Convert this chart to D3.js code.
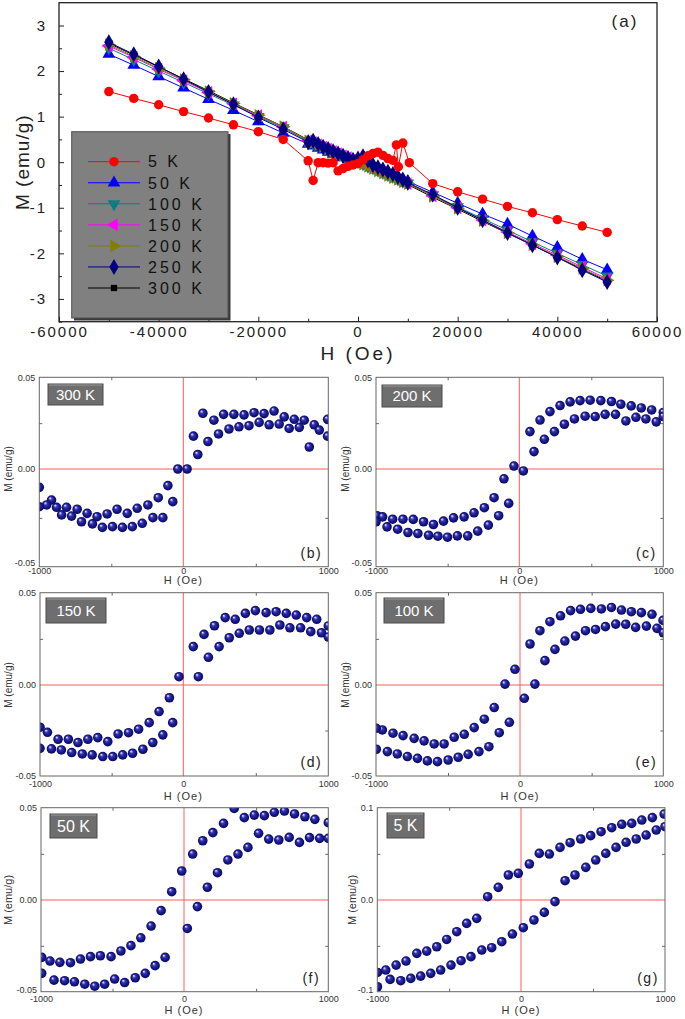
<!DOCTYPE html>
<html><head><meta charset="utf-8">
<script src="https://cdn.jsdelivr.net/npm/d3@7"></script>
<style>body{margin:0;background:#fff}svg{display:block;font-family:Arial,"Liberation Sans",sans-serif}</style>
</head><body><svg id="c" width="685" height="1019"></svg>
<script>
// ---------- panel (a) data ----------
const topXTicks = [-60000,-40000,-20000,0,20000,40000,60000];
const topYTicks = [-3,-2,-1,0,1,2,3];
const topH = [-50000,-45000,-40000,-35000,-30000,-25000,-20000,-15000,-10000,-9000,-8000,-7000,-6000,-5000,-4000,-3000,-2000,-1000,0,1000,2000,3000,4000,5000,6000,7000,8000,9000,10000,15000,20000,25000,30000,35000,40000,45000,50000];
const m50K  = [2.37,2.13,1.88,1.63,1.38,1.14,0.89,0.64,0.40,0.36,0.31,0.27,0.22,0.18,0.14,0.10,0.06,0.03,0.0,-0.04,-0.07,-0.11,-0.15,-0.20,-0.24,-0.29,-0.33,-0.38,-0.42,-0.66,-0.90,-1.14,-1.36,-1.62,-1.87,-2.13,-2.36];
const m100K = [2.50,2.25,2.00,1.75,1.50,1.25,1.00,0.75,0.46,0.42,0.37,0.33,0.28,0.23,0.19,0.14,0.09,0.05,0.01,-0.04,-0.09,-0.13,-0.18,-0.23,-0.28,-0.32,-0.37,-0.42,-0.46,-0.72,-0.98,-1.24,-1.49,-1.75,-2.00,-2.25,-2.50];
const m150K = [2.55,2.30,2.04,1.79,1.53,1.28,1.02,0.77,0.47,0.43,0.38,0.33,0.29,0.24,0.19,0.14,0.10,0.05,0.01,-0.04,-0.09,-0.14,-0.19,-0.24,-0.28,-0.33,-0.38,-0.43,-0.47,-0.74,-1.00,-1.27,-1.53,-1.79,-2.04,-2.30,-2.56];
const m200K = [2.58,2.32,2.06,1.81,1.55,1.29,1.03,0.78,0.47,0.43,0.38,0.34,0.29,0.24,0.19,0.15,0.10,0.05,0.02,-0.04,-0.09,-0.14,-0.19,-0.24,-0.29,-0.34,-0.38,-0.43,-0.47,-0.75,-1.01,-1.28,-1.55,-1.81,-2.07,-2.33,-2.59];
const m250K = [2.63,2.37,2.10,1.82,1.54,1.27,0.98,0.72,0.44,0.47,0.40,0.34,0.29,0.24,0.19,0.14,0.09,0.05,0.08,0.13,0.04,-0.06,-0.11,-0.16,-0.21,-0.26,-0.32,-0.38,-0.45,-0.71,-1.00,-1.27,-1.55,-1.82,-2.09,-2.37,-2.63];
const m300K = [2.61,2.35,2.09,1.83,1.57,1.30,1.04,0.78,0.49,0.44,0.39,0.34,0.29,0.24,0.19,0.15,0.10,0.05,0.0,-0.05,-0.10,-0.15,-0.20,-0.25,-0.30,-0.35,-0.40,-0.45,-0.49,-0.77,-1.03,-1.30,-1.56,-1.82,-2.08,-2.35,-2.61];
const h5K = [-50000,-45000,-40000,-35000,-30000,-25000,-20000,-15000,-10000,-9000,-8000,-7000,-6000,-5000,-4000,-3000,-2000,-1000,0,1000,2000,3000,4000,5000,6000,7000,7700,8100,9000,10300,15000,20000,25000,30000,35000,40000,45000,50000];
const m5K = [1.55,1.40,1.26,1.11,0.97,0.82,0.67,0.50,0.03,-0.40,-0.01,-0.01,-0.02,-0.01,-0.19,-0.14,-0.09,-0.06,-0.03,0.05,0.14,0.19,0.22,0.15,0.08,0.04,0.38,-0.10,0.42,-0.01,-0.47,-0.65,-0.81,-0.97,-1.11,-1.26,-1.40,-1.54];
const legendLabels = ["5 K","50 K","100 K","150 K","200 K","250 K","300 K"];

// ---------- loop panels data ----------
const loopXTicks = [-1000,0,1000];
const h300 = [135,211,278,349,419,488,557,626,696,765,834,903,995, 70,100,170,243,315,384,453,523,592,661,730,800,869,938,995, -38,26,-107,-73, -174,-246,-320,-389,-460,-529,-599,-668,-737,-811,-880,-915,-949,-1000, -142,-211,-285,-354,-423,-492,-562,-631,-707,-776,-845,-1000];
const m300 = [0.0304,0.0266,0.0298,0.0298,0.0295,0.0307,0.0302,0.0316,0.0284,0.0271,0.0266,0.0241,0.0271, 0.0179,0.0079,0.015,0.0191,0.0218,0.023,0.0236,0.0254,0.0241,0.0245,0.0221,0.0227,0.012,0.0212,0.0179, 0.0,0.0,-0.0085,-0.0167, -0.0147,-0.0184,-0.0201,-0.0227,-0.0206,-0.023,-0.0244,-0.0227,-0.0206,-0.0196,-0.0196,-0.0159,-0.0184,-0.0094, -0.0249,-0.0249,-0.0278,-0.0295,-0.0299,-0.0295,-0.0299,-0.0281,-0.027,-0.0241,-0.0235,-0.0193];
const h200 = [74,144,213,283,353,422,492,566,640,705,777,847,919,1000, 102,174,244,313,383,457,527,596,668,740,810,879,951,1000, -993,-954,-884,-812,-740,-668,-599,-529,-459,-385,-316,-244,-176,-107,-37, -1000,-923,-849,-777,-708,-633,-568,-501,-432,-360,-290,-216,-144,-74,28];
const m200 = [0.0204,0.0267,0.0313,0.0346,0.0366,0.0373,0.0375,0.0373,0.0368,0.0353,0.0344,0.0333,0.0322,0.0308, 0.0095,0.0162,0.0204,0.0244,0.0273,0.0288,0.0286,0.0298,0.0298,0.0262,0.0282,0.0273,0.0257,0.0286, -0.0239,-0.0245,-0.0257,-0.0257,-0.0258,-0.027,-0.0284,-0.0267,-0.025,-0.0245,-0.0224,-0.0198,-0.0147,-0.005,0.0016, -0.027,-0.0296,-0.0308,-0.0325,-0.033,-0.0339,-0.0344,-0.0349,-0.0342,-0.0342,-0.0318,-0.0287,-0.0239,-0.0176,-0.001];
const h150 = [69,143,215,289,358,428,497,571,640,710,779,851,920,1000, 104,173,247,317,386,455,525,597,666,735,809,879,953,1000, -30, -97,-169,-238,-312,-382,-455,-527,-597,-666,-735,-802,-874,-948,-1000, -74,-143,-213,-282,-354,-423,-492,-562,-636,-705,-779,-851,-920,-1000];
const m150 = [0.0208,0.0274,0.0321,0.0365,0.0356,0.0388,0.0403,0.0392,0.0397,0.0388,0.0379,0.0365,0.0356,0.032, 0.0045,0.015,0.0208,0.0256,0.028,0.0298,0.0298,0.0298,0.0325,0.031,0.031,0.0289,0.0283,0.026, 0.0045, -0.007,-0.0146,-0.0207,-0.0243,-0.0262,-0.0269,-0.0311,-0.0289,-0.0298,-0.0316,-0.0298,-0.0298,-0.026,-0.0232, -0.0207,-0.0274,-0.0316,-0.0353,-0.0375,-0.0384,-0.0393,-0.0393,-0.0384,-0.0379,-0.0371,-0.0357,-0.0351,-0.0348];
const h100 = [70,139,209,283,353,422,494,568,638,708,777,847,921,998, 104,174,244,313,387,457,527,596,668,738,807,882,956,1000, -35,-104,30, -179,-248,-318,-387,-457,-527,-596,-666,-735,-812,-882,-956,-998, -74,-144,-216,-285,-360,-429,-499,-573,-643,-712,-782,-852,-921,-998];
const m100 = [0.0222,0.0294,0.0343,0.0375,0.0403,0.041,0.0415,0.0412,0.042,0.0406,0.0397,0.0392,0.0383,0.035, 0.0005,0.0132,0.0193,0.0238,0.0265,0.0294,0.0301,0.0316,0.033,0.0329,0.0312,0.0319,0.0307,0.0283, 0.0085,0.0005,-0.0073, -0.0124,-0.0188,-0.0234,-0.0271,-0.0287,-0.0324,-0.0324,-0.0307,-0.0293,-0.0278,-0.0265,-0.0247,-0.0238, -0.0205,-0.0262,-0.0339,-0.0366,-0.0381,-0.0397,-0.0412,-0.0421,-0.0417,-0.0403,-0.0393,-0.0379,-0.0366,-0.0353];
const h50 = [60,130,200,274,348,418,487,557,626,696,766,838,907,1000, 23,93,162,232,304,374,443,517,587,657,729,800,870,940,1000, -16,-86,-160,-230,-302,-371,-441,-510,-585,-654,-724,-794,-868,-937,-995, -132,-202,-271,-341,-415,-485,-555,-624,-694,-766,-835,-909,-995];
const m50 = [0.0249,0.0321,0.0365,0.0415,0.0496,0.0446,0.046,0.0457,0.0475,0.0482,0.0466,0.0451,0.0437,0.0419, -0.0155,-0.0036,0.0069,0.0148,0.0217,0.0249,0.0285,0.0361,0.033,0.0325,0.0339,0.0312,0.0338,0.0334,0.0334, 0.0157,0.0045,-0.0058,-0.0142,-0.0206,-0.0249,-0.0278,-0.0309,-0.0304,-0.0309,-0.0322,-0.0342,-0.034,-0.0333,-0.0313, -0.0313,-0.0358,-0.04,-0.0424,-0.045,-0.0431,-0.0459,-0.047,-0.0459,-0.0446,-0.044,-0.0437,-0.04];
const h5 = [-999,-941,-869,-800,-725,-656,-586,-517,-447,-378,-308,-232,-158,-88,-19,58,127,197,271,341,415,484,556,630,700,769,839,912,994, -999,-911,-837,-767,-698,-628,-559,-487,-417,-348,-273,-204,-134,-60,16,90,162,236,306,375,450,519,589,660,730,800,869,939,1000];
const m5 = [-0.079,-0.0764,-0.071,-0.0666,-0.0582,-0.0557,-0.051,-0.043,-0.0346,-0.0255,-0.02,0.0036,0.0137,0.0271,0.0289,0.039,0.0505,0.0498,0.057,0.0621,0.0661,0.0697,0.074,0.0783,0.082,0.083,0.0866,0.0892,0.0931, -0.0946,-0.0866,-0.088,-0.0855,-0.083,-0.08,-0.0764,-0.071,-0.0662,-0.0618,-0.0546,-0.052,-0.0455,-0.0371,-0.0302,-0.0218,-0.0135,-0.0018,0.0209,0.0271,0.0354,0.0433,0.0505,0.057,0.0625,0.0661,0.0704,0.0758,0.0794];

// ---------- drawing ----------
const svg = d3.select("#c");
const defs = svg.append("defs");
const grad = defs.append("radialGradient").attr("id","ball").attr("cx","50%").attr("cy","50%").attr("r","50%").attr("fx","33%").attr("fy","28%");
[[0,"#ffffff"],[0.12,"#b8b8f0"],[0.35,"#3434b0"],[0.7,"#16168a"],[1,"#0a0a55"]].forEach(([o,c])=>grad.append("stop").attr("offset",o).attr("stop-color",c));

// panel (a)
const TL=59, TR=657, TT=2.7, TB=321.7;
const tx = d3.scaleLinear().domain([-60000,60000]).range([TL,TR]);
const ty = d3.scaleLinear().domain([-3.5,3.5]).range([TB,TT]);
const gA = svg.append("g");
gA.append("g").attr("transform",`translate(0,${TB})`)
  .call(d3.axisBottom(tx).tickValues(topXTicks).tickSize(-5).tickPadding(5).tickFormat(d=>String(d)));
gA.append("g").attr("transform",`translate(0,${TB})`)
  .call(d3.axisBottom(tx).tickValues(d3.range(-50000,60000,20000)).tickSize(-3).tickFormat(""));
gA.append("g").attr("transform",`translate(${TL},0)`)
  .call(d3.axisLeft(ty).tickValues(topYTicks).tickSize(-5).tickPadding(12).tickFormat(d=>String(d)));
gA.append("g").attr("transform",`translate(${TL},0)`)
  .call(d3.axisLeft(ty).tickValues([-3.5,-2.5,-1.5,-0.5,0.5,1.5,2.5]).tickSize(-3).tickFormat(""));
gA.selectAll(".domain").remove();
gA.selectAll(".tick line").attr("stroke","#222");
gA.selectAll(".tick text").attr("font-size",15).attr("letter-spacing","2px").attr("fill","#222").attr("font-family","Arial, Liberation Sans, sans-serif");
gA.append("rect").attr("x",TL).attr("y",TT).attr("width",TR-TL).attr("height",TB-TT).attr("fill","none").attr("stroke","#222").attr("stroke-width",1.3);
gA.append("text").attr("x",(TL+TR)/2).attr("y",360).attr("text-anchor","middle").attr("font-size",19).attr("letter-spacing","3px").attr("fill","#222").text("H (Oe)");
gA.append("text").attr("transform",`translate(22,${ty(0)}) rotate(-90)`).attr("text-anchor","middle").attr("dy","0.36em").attr("font-size",19).attr("letter-spacing","1px").attr("fill","#222").text("M (emu/g)");
gA.append("text").attr("x",625).attr("y",27).attr("text-anchor","middle").attr("font-size",17).attr("letter-spacing","2px").attr("fill","#222").text("(a)");

const sym = (type,size,rot)=>({type,size,rot});
const series = [
  {h:topH, m:m300K, color:"#000000", s:sym(d3.symbolSquare,40,0), label:6},
  {h:topH, m:m50K,  color:"#0000ff", s:sym(d3.symbolTriangle,70,0), label:1},
  {h:topH, m:m100K, color:"#008080", s:sym(d3.symbolTriangle,70,180), label:2},
  {h:topH, m:m150K, color:"#ff00ff", s:sym(d3.symbolTriangle,70,-90), label:3},
  {h:topH, m:m200K, color:"#808000", s:sym(d3.symbolTriangle,70,90), label:4},
  {h:topH, m:m250K, color:"#000080", s:sym(d3.symbolDiamond,75,0), label:5},
  {h:h5K,  m:m5K,   color:"#ff0000", s:sym(d3.symbolCircle,70,0), label:0}
];
const line = d3.line();
series.forEach(sr=>{
  const pts = sr.h.map((h,i)=>[tx(h),ty(sr.m[i])]);
  gA.append("path").attr("d",line(pts)).attr("fill","none").attr("stroke",sr.color).attr("stroke-width",1);
  gA.append("g").selectAll("path").data(pts).join("path")
    .attr("d",d3.symbol().type(sr.s.type).size(sr.s.size))
    .attr("transform",d=>`translate(${d[0]},${d[1]}) rotate(${sr.s.rot})`)
    .attr("fill",sr.color);
});
// legend
const lg = gA.append("g");
lg.append("rect").attr("x",74).attr("y",134).attr("width",156.5).attr("height",186.5).attr("fill","#3a3a3a");
lg.append("rect").attr("x",71.7).attr("y",131.7).attr("width",156.3).attr("height",186.3).attr("fill","#808080").attr("stroke","#505050");
const legRow = d3.scaleLinear().domain([0,6]).range([161.7,288]);
series.forEach(sr=>{
  const yy = legRow(sr.label);
  lg.append("line").attr("x1",88).attr("x2",140).attr("y1",yy).attr("y2",yy).attr("stroke",sr.color).attr("stroke-width",1);
  lg.append("path").attr("d",d3.symbol().type(sr.s.type).size(sr.s.size)()).attr("transform",`translate(114,${yy}) rotate(${sr.s.rot})`).attr("fill",sr.color);
  lg.append("text").attr("x",148).attr("y",yy).attr("dy","0.36em").attr("font-size",16).attr("letter-spacing","3px").attr("fill","#111").text(legendLabels[sr.label]);
});

// loop panels
const panels = [
  {id:"b", L:39.3, X0:183.3, R:328.3, T:377.3, Y0:469, B:566.7, ym:0.05, yt:[-0.05,0,0.05], fmt:d3.format(".2f"), h:h300, m:m300, temp:"300 K", box:[48,384,55,21], fs:15, ytx:8, xt:584, yfs:10, xpad:0.5, ybs:-3.7},
  {id:"c", L:376, X0:519.3, R:663.3, T:377.3, Y0:469, B:566.7, ym:0.05, yt:[-0.05,0,0.05], fmt:d3.format(".2f"), h:h200, m:m200, temp:"200 K", box:[382,385,60,22], fs:15, ytx:345, xt:584, yfs:10, xpad:0.5, ybs:-3.7},
  {id:"d", L:40, X0:183.3, R:328.3, T:592.7, Y0:685, B:776, ym:0.05, yt:[-0.05,0,0.05], fmt:d3.format(".2f"), h:h150, m:m150, temp:"150 K", box:[46,598,60,25], fs:15, ytx:8, xt:799.5, yfs:10, xpad:5, ybs:0},
  {id:"e", L:376, X0:520, R:663.3, T:592.7, Y0:685, B:776, ym:0.05, yt:[-0.05,0,0.05], fmt:d3.format(".2f"), h:h100, m:m100, temp:"100 K", box:[384,598,60,25], fs:15, ytx:345, xt:799.5, yfs:10, xpad:5, ybs:0},
  {id:"f", L:41, X0:184, R:328.3, T:807.7, Y0:900, B:991.7, ym:0.05, yt:[-0.05,0,0.05], fmt:d3.format(".2f"), h:h50, m:m50, temp:"50 K", box:[50,814,47,24], fs:16, ytx:8, xt:1014, yfs:11, xpad:4, ybs:-1.7},
  {id:"g", L:377.3, X0:521, R:665, T:807.7, Y0:900, B:991.7, ym:0.1, yt:[-0.1,0,0.1], fmt:d3.format(".1f"), h:h5, m:m5, temp:"5 K", box:[387,813,37,25], fs:16, ytx:352, xt:1014, yfs:11, xpad:4, ybs:-1.7}
];
panels.forEach(p=>{
  const x = d3.scaleLinear().domain([-1000,0,1000]).range([p.L,p.X0,p.R]);
  const y = d3.scaleLinear().domain([-p.ym,0,p.ym]).range([p.B,p.Y0,p.T]);
  const g = svg.append("g");
  const fmt = v => (v<0?"-":"")+p.fmt(Math.abs(v));
  g.append("g").attr("transform",`translate(0,${p.B})`).call(d3.axisBottom(x).tickValues(loopXTicks).tickSize(0).tickPadding(p.xpad).tickFormat(d=>String(d)));
  const ya = g.append("g").attr("transform",`translate(${p.L},0)`).call(d3.axisLeft(y).tickValues(p.yt).tickSize(0).tickPadding(4).tickFormat(fmt));
  ya.selectAll(".tick").filter(d=>d<0).select("text").attr("y",p.ybs);
  g.selectAll(".domain").remove();
  g.selectAll(".tick text").attr("font-size",9).attr("fill","#333").attr("font-family","Arial, Liberation Sans, sans-serif");
  // minor ticks
  const mx=[-500,500], my=[-p.ym/2,p.ym/2];
  g.append("g").attr("transform",`translate(0,${p.B})`).call(d3.axisBottom(x).tickValues(mx).tickSize(-3).tickFormat(""));
  g.append("g").attr("transform",`translate(0,${p.T})`).call(d3.axisTop(x).tickValues(mx).tickSize(-3).tickFormat(""));
  g.append("g").attr("transform",`translate(${p.L},0)`).call(d3.axisLeft(y).tickValues(my).tickSize(-3).tickFormat(""));
  g.append("g").attr("transform",`translate(${p.R},0)`).call(d3.axisRight(y).tickValues(my).tickSize(-3).tickFormat(""));
  g.selectAll(".domain").remove();
  g.selectAll(".tick line").attr("stroke","#666");
  // clip
  defs.append("clipPath").attr("id","clip"+p.id).append("rect").attr("x",p.L).attr("y",p.T).attr("width",p.R-p.L).attr("height",p.B-p.T);
  const inner = g.append("g").attr("clip-path",`url(#clip${p.id})`);
  inner.append("line").attr("x1",x(0)).attr("x2",x(0)).attr("y1",p.T).attr("y2",p.B).attr("stroke","#ff5a5a").attr("stroke-width",1);
  inner.append("line").attr("x1",p.L).attr("x2",p.R).attr("y1",y(0)).attr("y2",y(0)).attr("stroke","#ff5a5a").attr("stroke-width",1);
  inner.selectAll("circle").data(p.h.map((h,i)=>[h,p.m[i]])).join("circle")
    .attr("cx",d=>x(d[0])).attr("cy",d=>y(d[1])).attr("r",4.8).attr("fill","url(#ball)");
  g.append("rect").attr("x",p.L).attr("y",p.T).attr("width",p.R-p.L).attr("height",p.B-p.T).attr("fill","none").attr("stroke","#666").attr("stroke-width",1);
  // temp box
  const [bx,by,bw,bh] = p.box;
  g.append("rect").attr("x",bx).attr("y",by).attr("width",bw).attr("height",bh).attr("fill","#6e6e6e").attr("stroke","#4a4a4a").attr("stroke-width",1);
  g.append("line").attr("x1",bx+1).attr("x2",bx+bw-1).attr("y1",by+1).attr("y2",by+1).attr("stroke","#9a9a9a");
  g.append("text").attr("x",bx+bw/2).attr("y",by+bh/2).attr("dy","0.36em").attr("text-anchor","middle").attr("font-size",p.fs).attr("fill","#fff").text(p.temp);
  // letter
  g.append("text").attr("x",p.R-17).attr("y",p.B-14).attr("dy","0.36em").attr("text-anchor","middle").attr("font-size",14).attr("letter-spacing","1.5px").attr("fill","#222").text(`(${p.id})`);
  // titles
  g.append("text").attr("x",x(0)).attr("y",p.xt).attr("text-anchor","middle").attr("font-size",11).attr("letter-spacing","1px").attr("fill","#333").text("H (Oe)");
  g.append("text").attr("transform",`translate(${p.ytx},${y(0)}) rotate(-90)`).attr("dy","0.36em").attr("text-anchor","middle").attr("font-size",p.yfs).attr("fill","#333").text("M (emu/g)");
});
</script></body></html>
